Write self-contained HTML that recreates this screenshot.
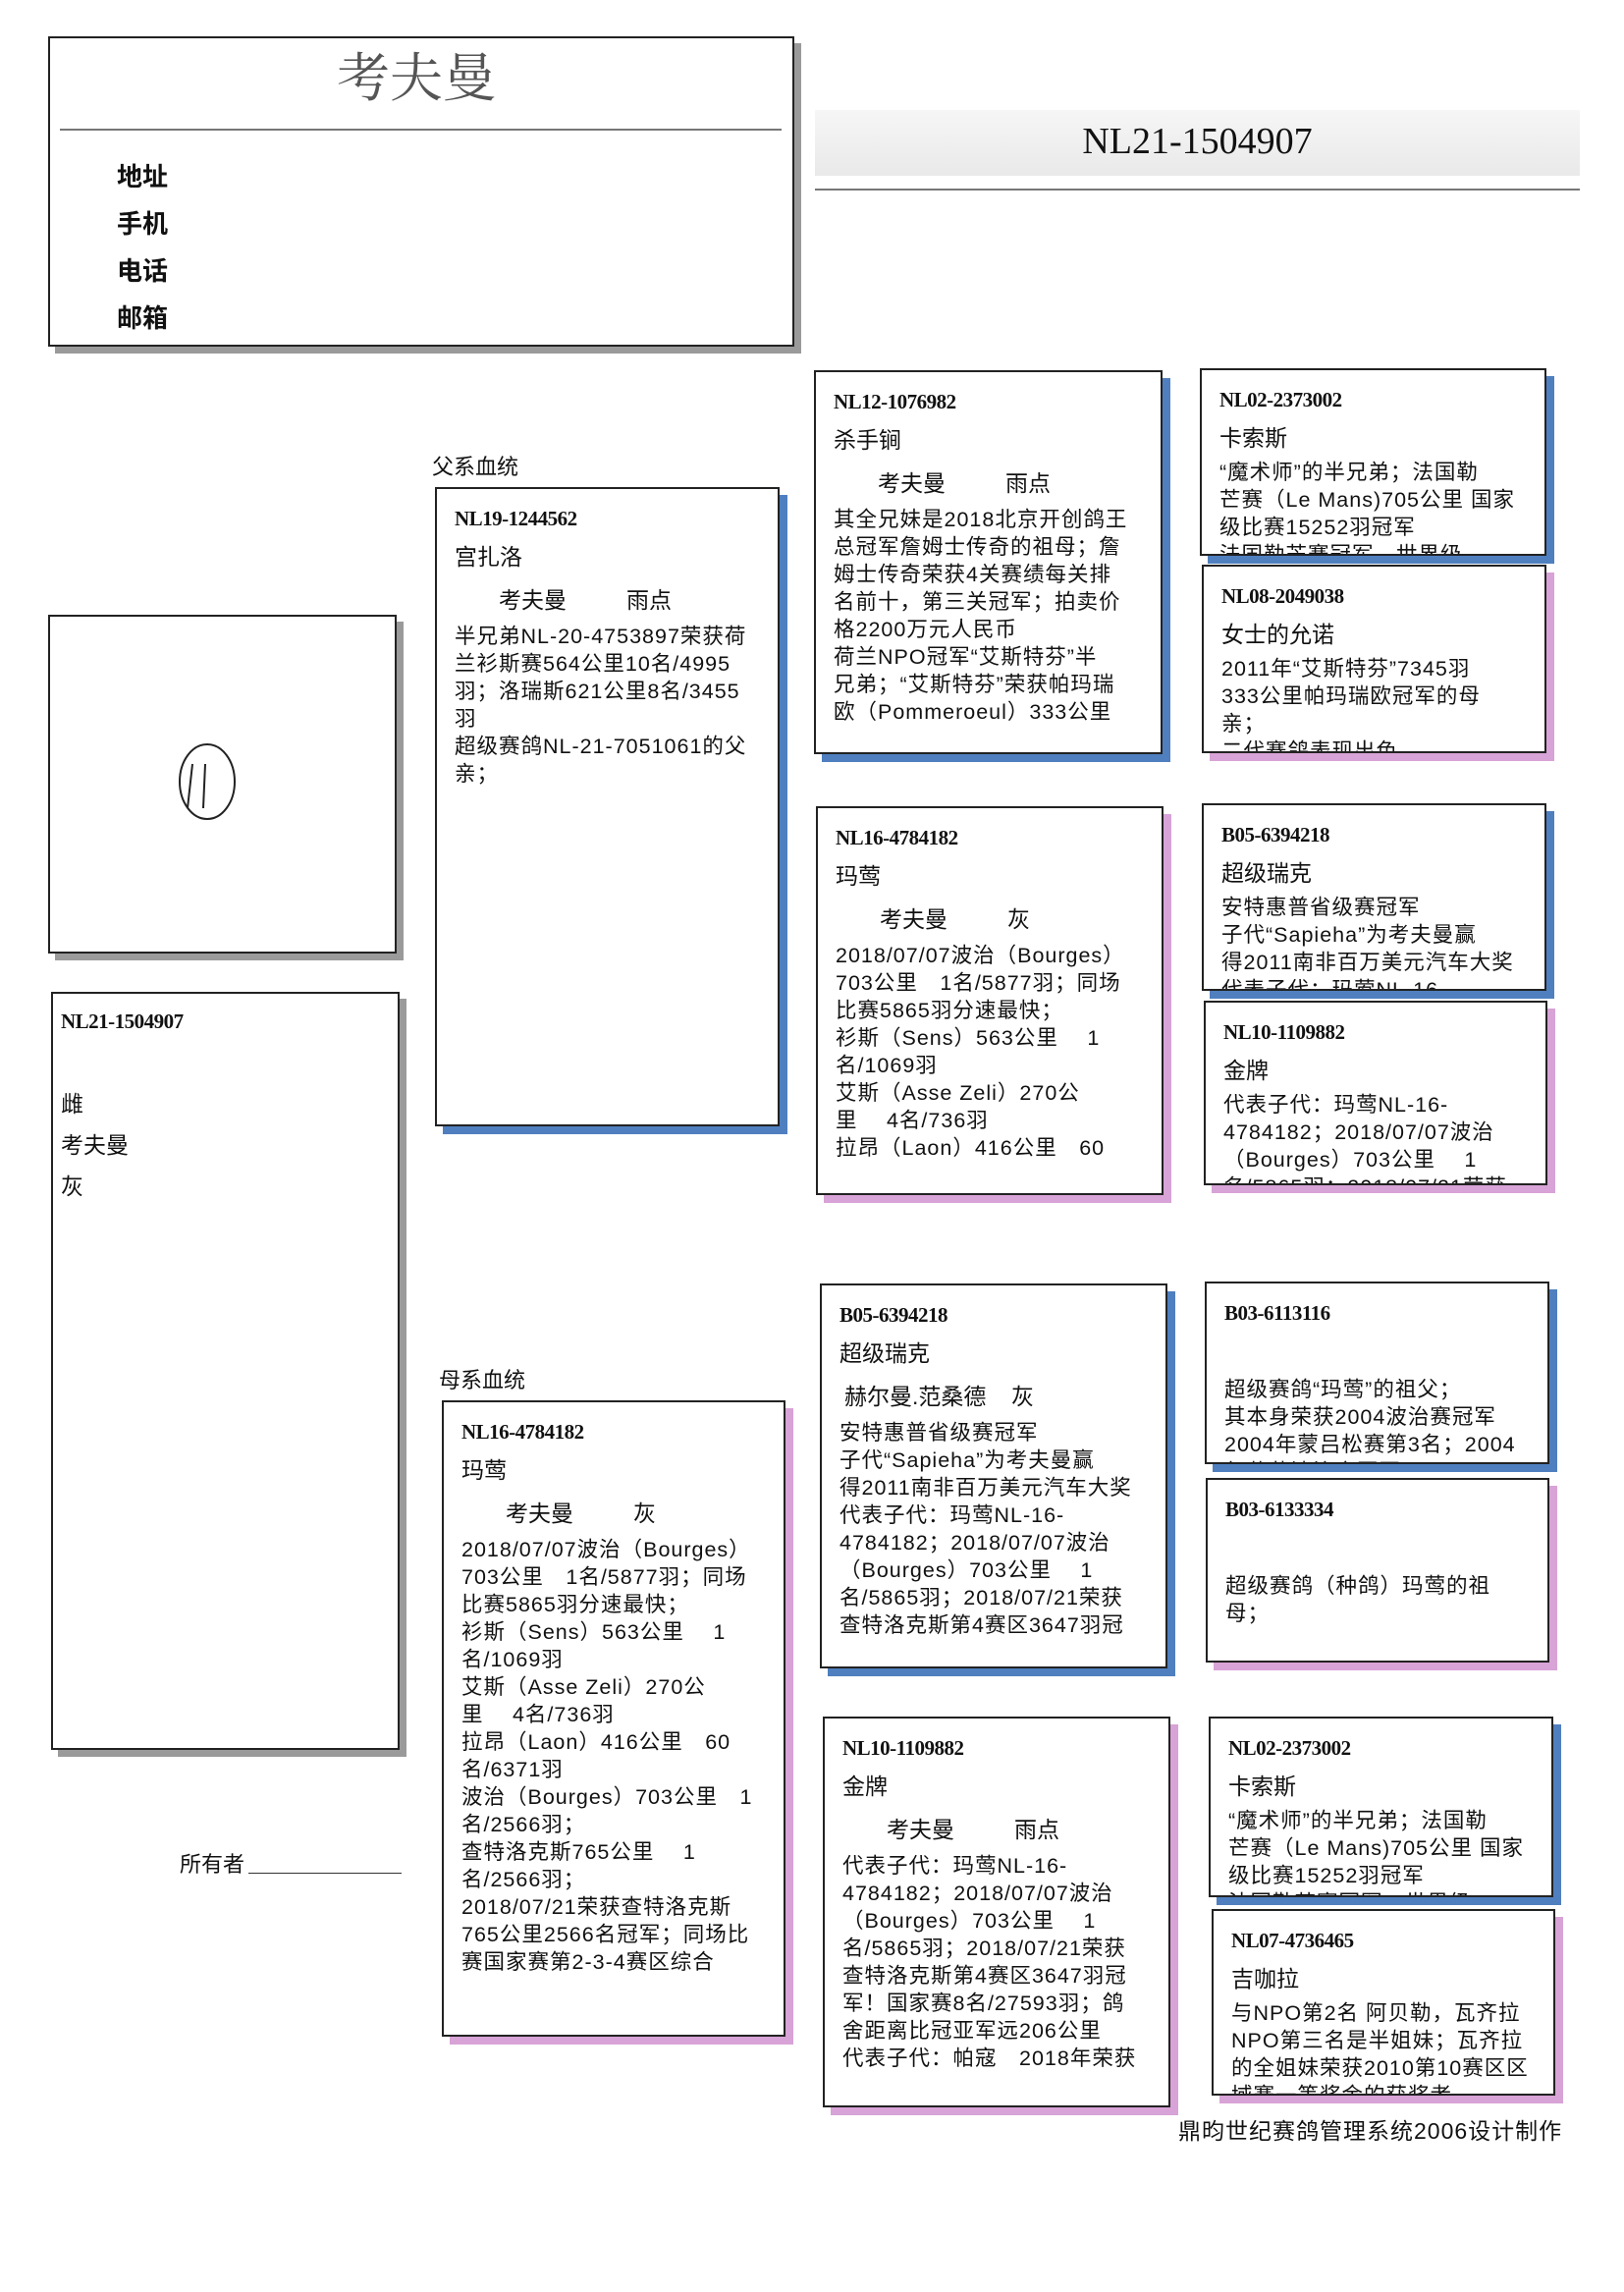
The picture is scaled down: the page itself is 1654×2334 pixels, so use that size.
<!DOCTYPE html>
<html><head><meta charset="utf-8"><style>
body{margin:0;background:#fff;}
#p{position:relative;width:1654px;height:2334px;overflow:hidden;background:#fff;font-family:"Liberation Sans","Noto Sans CJK SC",sans-serif;color:#111;}
.a{position:absolute;}
.bx{position:absolute;border:2px solid #222;background:#fff;overflow:hidden;box-sizing:border-box;padding:12px 0 0 18px;white-space:nowrap;}
.blue{box-shadow:8px 8px 0 #4f7fbf;}
.pink{box-shadow:8px 8px 0 #d8a3d6;}
.gray{box-shadow:7px 7px 0 #9a9a9a;}
.id{font-family:"Liberation Serif","Noto Serif CJK SC",serif;font-weight:bold;font-size:21px;height:36px;line-height:36px;letter-spacing:-0.5px;}
.nm{font-size:23px;height:42px;line-height:42px;}
.ow{font-size:23px;height:46px;line-height:46px;padding-left:45px;}
.ow span{display:inline-block;width:130px;}
.bd{font-size:21.5px;line-height:28px;letter-spacing:1px;}
</style></head><body><div id="p">

<div class="bx gray" style="left:49px;top:37px;width:760px;height:316px;padding:0;">
  <div class="a" style="left:0;width:756px;top:-2px;text-align:center;font-size:54px;color:#555;font-family:'Noto Serif CJK SC',serif;"><span style="margin-left:-10px">考夫曼</span></div>
  <div class="a" style="left:10px;top:92px;width:735px;border-top:2px solid #777;"></div>
  <div class="a" style="left:68px;top:117px;font-size:26px;font-weight:bold;line-height:48px;">地址<br>手机<br>电话<br>邮箱</div>
</div>

<div class="a" style="left:830px;top:112px;width:779px;height:67px;background:linear-gradient(#f6f6f6,#e9e9e9);"></div>
<div class="a" style="left:830px;top:122px;width:779px;text-align:center;font-family:'Liberation Serif',serif;font-size:38px;">NL21-1504907</div>
<div class="a" style="left:830px;top:192px;width:779px;border-top:2px solid #777;"></div>

<div class="bx gray" style="left:49px;top:626px;width:355px;height:345px;padding:0;">
<svg width="351" height="341" style="position:absolute;left:0;top:0"><ellipse cx="160" cy="168" rx="28" ry="38" fill="none" stroke="#222" stroke-width="2"/><path d="M145 150 L140 195 M158 150 L156 195" stroke="#222" stroke-width="2" fill="none"/></svg>
</div>

<div class="bx gray" style="left:52px;top:1010px;width:355px;height:772px;padding:10px 0 0 8px;">
  <div class="id">NL21-1504907</div>
  <div style="font-size:23px;line-height:42px;margin-top:45px;">雌<br>考夫曼<br>灰</div>
</div>

<div class="a" style="left:183px;top:1881px;font-size:22px;">所有者</div>
<div class="a" style="left:253px;top:1907px;width:156px;border-top:1.5px solid #333;"></div>

<div class="a" style="left:440px;top:458px;font-size:22px;">父系血统</div>
<div class="bx blue" style="left:443px;top:496px;width:351px;height:651px;">
 <div class="id">NL19-1244562</div><div class="nm">宫扎洛</div><div class="ow"><span>考夫曼</span>雨点</div>
 <div class="bd">半兄弟NL-20-4753897荣获荷<br>兰衫斯赛564公里10名/4995<br>羽；洛瑞斯621公里8名/3455<br>羽<br>超级赛鸽NL-21-7051061的父<br>亲；</div>
</div>

<div class="a" style="left:447px;top:1388px;font-size:22px;">母系血统</div>
<div class="bx pink" style="left:450px;top:1426px;width:350px;height:648px;">
 <div class="id">NL16-4784182</div><div class="nm">玛莺</div><div class="ow"><span>考夫曼</span>灰</div>
 <div class="bd">2018/07/07波治（Bourges）<br>703公里　1名/5877羽；同场<br>比赛5865羽分速最快；<br>衫斯（Sens）563公里　 1<br>名/1069羽<br>艾斯（Asse Zeli）270公<br>里　 4名/736羽<br>拉昂（Laon）416公里　60<br>名/6371羽<br>波治（Bourges）703公里　1<br>名/2566羽；<br>查特洛克斯765公里　 1<br>名/2566羽；<br>2018/07/21荣获查特洛克斯<br>765公里2566名冠军；同场比<br>赛国家赛第2-3-4赛区综合</div>
</div>

<div class="bx blue" style="left:829px;top:377px;width:355px;height:391px;">
 <div class="id">NL12-1076982</div><div class="nm">杀手锏</div><div class="ow"><span>考夫曼</span>雨点</div>
 <div class="bd">其全兄妹是2018北京开创鸽王<br>总冠军詹姆士传奇的祖母；詹<br>姆士传奇荣获4关赛绩每关排<br>名前十，第三关冠军；拍卖价<br>格2200万元人民币<br>荷兰NPO冠军“艾斯特芬”半<br>兄弟；“艾斯特芬”荣获帕玛瑞<br>欧（Pommeroeul）333公里</div>
</div>
<div class="bx pink" style="left:831px;top:821px;width:354px;height:396px;">
 <div class="id">NL16-4784182</div><div class="nm">玛莺</div><div class="ow"><span>考夫曼</span>灰</div>
 <div class="bd">2018/07/07波治（Bourges）<br>703公里　1名/5877羽；同场<br>比赛5865羽分速最快；<br>衫斯（Sens）563公里　 1<br>名/1069羽<br>艾斯（Asse Zeli）270公<br>里　 4名/736羽<br>拉昂（Laon）416公里　60</div>
</div>
<div class="bx blue" style="left:835px;top:1307px;width:354px;height:392px;">
 <div class="id">B05-6394218</div><div class="nm">超级瑞克</div><div class="ow" style="padding-left:5px"><span style="width:170px">赫尔曼.范桑德</span>灰</div>
 <div class="bd">安特惠普省级赛冠军<br>子代“Sapieha”为考夫曼赢<br>得2011南非百万美元汽车大奖<br>代表子代：玛莺NL-16-<br>4784182；2018/07/07波治<br>（Bourges）703公里　 1<br>名/5865羽；2018/07/21荣获<br>查特洛克斯第4赛区3647羽冠</div>
</div>
<div class="bx pink" style="left:838px;top:1748px;width:354px;height:398px;">
 <div class="id">NL10-1109882</div><div class="nm">金牌</div><div class="ow"><span>考夫曼</span>雨点</div>
 <div class="bd">代表子代：玛莺NL-16-<br>4784182；2018/07/07波治<br>（Bourges）703公里　 1<br>名/5865羽；2018/07/21荣获<br>查特洛克斯第4赛区3647羽冠<br>军！国家赛8名/27593羽；鸽<br>舍距离比冠亚军远206公里<br>代表子代：帕寇　2018年荣获</div>
</div>

<div class="bx blue" style="left:1222px;top:375px;width:353px;height:191px;">
 <div class="id">NL02-2373002</div><div class="nm">卡索斯</div>
 <div class="bd">“魔术师”的半兄弟；法国勒<br>芒赛（Le Mans)705公里 国家<br>级比赛15252羽冠军<br>法国勒芒赛冠军，世界级</div>
</div>
<div class="bx pink" style="left:1224px;top:575px;width:351px;height:192px;">
 <div class="id">NL08-2049038</div><div class="nm">女士的允诺</div>
 <div class="bd">2011年“艾斯特芬”7345羽<br>333公里帕玛瑞欧冠军的母<br>亲；<br>二代赛鸽表现出色</div>
</div>
<div class="bx blue" style="left:1224px;top:818px;width:351px;height:191px;">
 <div class="id">B05-6394218</div><div class="nm">超级瑞克</div>
 <div class="bd">安特惠普省级赛冠军<br>子代“Sapieha”为考夫曼赢<br>得2011南非百万美元汽车大奖<br>代表子代：玛莺NL-16-</div>
</div>
<div class="bx pink" style="left:1226px;top:1019px;width:350px;height:188px;">
 <div class="id">NL10-1109882</div><div class="nm">金牌</div>
 <div class="bd">代表子代：玛莺NL-16-<br>4784182；2018/07/07波治<br>（Bourges）703公里　 1<br>名/5865羽；2018/07/21荣获</div>
</div>
<div class="bx blue" style="left:1227px;top:1305px;width:351px;height:186px;">
 <div class="id">B03-6113116</div><div class="nm"></div>
 <div class="bd" style="margin-top:4px">超级赛鸽“玛莺”的祖父；<br>其本身荣获2004波治赛冠军<br>2004年蒙吕松赛第3名；2004<br>年荣获波治赛冠军</div>
</div>
<div class="bx pink" style="left:1228px;top:1505px;width:350px;height:188px;">
 <div class="id">B03-6133334</div><div class="nm"></div>
 <div class="bd" style="margin-top:4px">超级赛鸽（种鸽）玛莺的祖<br>母；</div>
</div>
<div class="bx blue" style="left:1231px;top:1748px;width:351px;height:184px;">
 <div class="id">NL02-2373002</div><div class="nm">卡索斯</div>
 <div class="bd">“魔术师”的半兄弟；法国勒<br>芒赛（Le Mans)705公里 国家<br>级比赛15252羽冠军<br>法国勒芒赛冠军，世界级</div>
</div>
<div class="bx pink" style="left:1234px;top:1944px;width:350px;height:190px;">
 <div class="id">NL07-4736465</div><div class="nm">吉咖拉</div>
 <div class="bd">与NPO第2名 阿贝勒，瓦齐拉<br>NPO第三名是半姐妹；瓦齐拉<br>的全姐妹荣获2010第10赛区区<br>域赛一等奖金的获奖者</div>
</div>

<div class="a" style="left:1200px;top:2151px;font-size:23px;letter-spacing:1px;">鼎昀世纪赛鸽管理系统2006设计制作</div>
</div></body></html>
